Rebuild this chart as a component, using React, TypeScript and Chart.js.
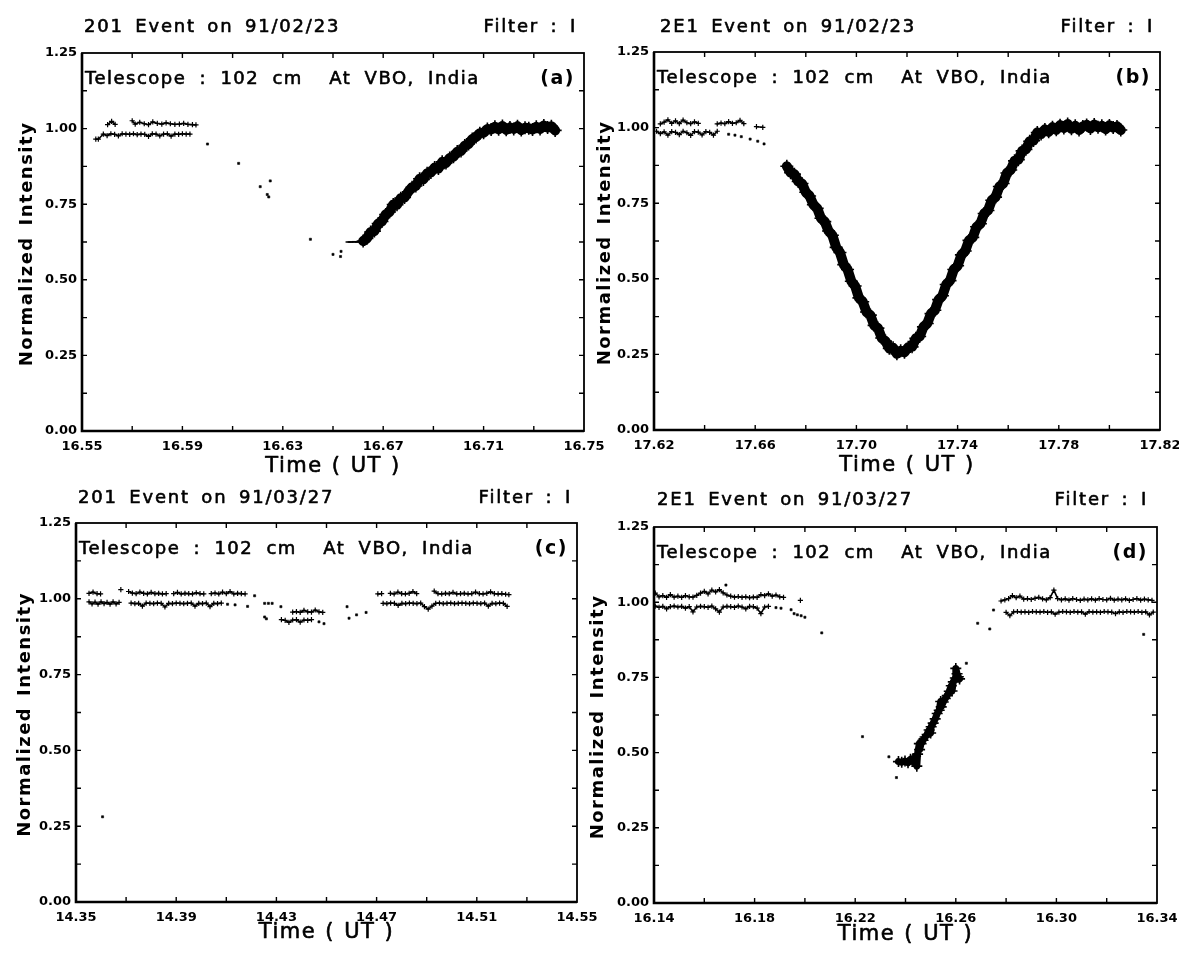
import React, { useEffect, useRef } from "react";
import { Chart, registerables } from "chart.js";

Chart.register(...registerables);
Chart.defaults.font.family = '"DejaVu Sans", sans-serif';

const PAGE_W = 1179;
const PAGE_H = 955;

// ---------- axis ticks ----------
const Y_TICKS = [0, 0.25, 0.5, 0.75, 1.0, 1.25];
const Y_TICK_LABELS = ["0.00", "0.25", "0.50", "0.75", "1.00", "1.25"];

const A_X_TICKS = [16.55, 16.59, 16.63, 16.67, 16.71, 16.75];
const A_X_LABELS = ["16.55", "16.59", "16.63", "16.67", "16.71", "16.75"];
const B_X_TICKS = [17.62, 17.66, 17.7, 17.74, 17.78, 17.82];
const B_X_LABELS = ["17.62", "17.66", "17.70", "17.74", "17.78", "17.82"];
const C_X_TICKS = [14.35, 14.39, 14.43, 14.47, 14.51, 14.55];
const C_X_LABELS = ["14.35", "14.39", "14.43", "14.47", "14.51", "14.55"];
const D_X_TICKS = [16.14, 16.18, 16.22, 16.26, 16.3, 16.34];
const D_X_LABELS = ["16.14", "16.18", "16.22", "16.26", "16.30", "16.34"];

// ---------- panel (a) 201 Event on 91/02/23 ----------
const A_PRE_HI: [number, number][] = [
  [16.5602, 1.013], [16.5618, 1.024], [16.5632, 1.014], [16.57, 1.026], [16.5712, 1.015],
  [16.573, 1.021], [16.5748, 1.016], [16.5765, 1.013], [16.5782, 1.022], [16.58, 1.017],
  [16.5818, 1.015], [16.5835, 1.019], [16.5852, 1.016], [16.587, 1.014], [16.5888, 1.015],
  [16.5905, 1.017], [16.5922, 1.014], [16.594, 1.013], [16.5954, 1.012],
];
const A_PRE_LO: [number, number][] = [
  [16.5555, 0.965], [16.5565, 0.965], [16.5585, 0.982], [16.56, 0.977], [16.5615, 0.983],
  [16.563, 0.981], [16.5645, 0.976], [16.566, 0.983], [16.5675, 0.982], [16.569, 0.981],
  [16.5705, 0.983], [16.572, 0.98], [16.5735, 0.982], [16.575, 0.981], [16.5765, 0.974],
  [16.578, 0.983], [16.5795, 0.982], [16.581, 0.976], [16.5825, 0.982], [16.584, 0.983],
  [16.5855, 0.975], [16.587, 0.982], [16.5885, 0.981], [16.59, 0.983], [16.5915, 0.982],
  [16.593, 0.982],
];
const A_GAP: [number, number][] = [
  [16.6, 0.949], [16.6124, 0.885], [16.621, 0.808], [16.6238, 0.782], [16.6244, 0.774],
  [16.625, 0.827], [16.641, 0.634], [16.65, 0.584], [16.653, 0.577], [16.6532, 0.594],
];
const A_FLAT: [number, number][] = [
  [16.656, 0.625], [16.6572, 0.625], [16.6584, 0.626], [16.6596, 0.625], [16.6608, 0.626],
];
const A_RISE: [number, number][] = [
  [16.662, 0.628], [16.6635, 0.637], [16.665, 0.658], [16.6665, 0.661], [16.668, 0.686],
  [16.6695, 0.693], [16.671, 0.716], [16.6725, 0.724], [16.674, 0.749], [16.6755, 0.748],
  [16.677, 0.77], [16.6785, 0.772], [16.68, 0.791], [16.6815, 0.806], [16.683, 0.81],
  [16.6845, 0.834], [16.686, 0.832], [16.6875, 0.852], [16.689, 0.855], [16.6905, 0.871],
  [16.692, 0.868], [16.6935, 0.89], [16.695, 0.886], [16.6965, 0.903], [16.698, 0.907],
  [16.6995, 0.924], [16.701, 0.926], [16.7025, 0.944], [16.704, 0.949], [16.7055, 0.966],
  [16.707, 0.972], [16.7085, 0.985], [16.71, 0.986], [16.7115, 0.999], [16.713, 0.997],
  [16.7145, 1.006], [16.716, 0.998], [16.7175, 1.009], [16.719, 0.996], [16.7205, 1.004],
  [16.722, 0.999], [16.7235, 1.008], [16.725, 0.995], [16.7265, 1.003], [16.728, 1.001],
  [16.7295, 0.997], [16.731, 1.006], [16.7325, 0.999], [16.734, 1.01], [16.7355, 1.004],
  [16.737, 1.008], [16.7385, 0.994],
];

// ---------- panel (b) 2E1 Event on 91/02/23 ----------
const B_PRE_HI: [number, number][] = [
  [17.6225, 1.012], [17.624, 1.018], [17.6255, 1.026], [17.627, 1.014], [17.6285, 1.022],
  [17.63, 1.013], [17.6315, 1.025], [17.633, 1.016], [17.6345, 1.013], [17.636, 1.019],
  [17.6375, 1.014], [17.645, 1.012], [17.6465, 1.015], [17.648, 1.013], [17.6495, 1.02],
  [17.651, 1.014], [17.6525, 1.016], [17.654, 1.024], [17.6555, 1.013], [17.6605, 1.003],
  [17.663, 1.001],
];
const B_PRE_LO: [number, number][] = [
  [17.621, 0.988], [17.6225, 0.98], [17.624, 0.986], [17.6255, 0.975], [17.627, 0.987],
  [17.6285, 0.984], [17.63, 0.977], [17.6315, 0.988], [17.633, 0.983], [17.6345, 0.974],
  [17.636, 0.987], [17.6375, 0.985], [17.639, 0.976], [17.6405, 0.987], [17.642, 0.984],
  [17.6435, 0.975], [17.645, 0.988],
];
const B_FALL: [number, number][] = [
  [17.6495, 0.978], [17.652, 0.975], [17.6545, 0.97], [17.658, 0.962], [17.661, 0.955],
  [17.6635, 0.946],
];
const B_CURVE: [number, number][] = [
  [17.6725, 0.872], [17.674, 0.851], [17.6755, 0.846], [17.677, 0.822], [17.6785, 0.815],
  [17.68, 0.786], [17.6815, 0.774], [17.683, 0.745], [17.6845, 0.733], [17.686, 0.7],
  [17.6875, 0.689], [17.689, 0.658], [17.6905, 0.644], [17.692, 0.604], [17.6935, 0.587],
  [17.695, 0.547], [17.6965, 0.531], [17.698, 0.492], [17.6995, 0.476], [17.701, 0.437],
  [17.7025, 0.424], [17.704, 0.39], [17.7055, 0.38], [17.707, 0.346], [17.7085, 0.337],
  [17.71, 0.304], [17.7115, 0.294], [17.713, 0.27], [17.7145, 0.272], [17.716, 0.252],
  [17.7175, 0.262], [17.719, 0.257], [17.7205, 0.274], [17.722, 0.275], [17.7235, 0.303],
  [17.725, 0.309], [17.7265, 0.341], [17.728, 0.352], [17.7295, 0.385], [17.731, 0.396],
  [17.7325, 0.431], [17.734, 0.444], [17.7355, 0.481], [17.737, 0.494], [17.7385, 0.531],
  [17.74, 0.543], [17.7415, 0.579], [17.743, 0.592], [17.7445, 0.627], [17.746, 0.637],
  [17.7475, 0.672], [17.749, 0.682], [17.7505, 0.716], [17.752, 0.726], [17.7535, 0.76],
  [17.755, 0.77], [17.7565, 0.805], [17.758, 0.815], [17.7595, 0.85], [17.761, 0.86],
  [17.7625, 0.89], [17.764, 0.894], [17.7655, 0.923], [17.767, 0.928], [17.7685, 0.955],
  [17.77, 0.957], [17.7715, 0.984], [17.773, 0.979], [17.7745, 0.994], [17.776, 0.986],
  [17.7775, 1.001], [17.779, 0.993], [17.7805, 1.008], [17.782, 0.999], [17.7835, 1.012],
  [17.785, 0.996], [17.7865, 1.006], [17.788, 0.992], [17.7895, 1.004], [17.791, 1.009],
  [17.7925, 0.997], [17.794, 1.01], [17.7955, 1.001], [17.797, 1.006], [17.7985, 0.995],
  [17.8, 1.007], [17.8015, 1.0], [17.803, 1.004], [17.8045, 0.992],
];

// ---------- panel (c) 201 Event on 91/03/27 ----------
const C_PRE_HI: [number, number][] = [
  [14.3552, 1.018], [14.3568, 1.022], [14.3584, 1.017], [14.3598, 1.016], [14.3679, 1.03],
  [14.371, 1.024], [14.3725, 1.019], [14.374, 1.017], [14.3755, 1.022], [14.377, 1.018],
  [14.3785, 1.016], [14.38, 1.021], [14.3815, 1.017], [14.383, 1.018], [14.3845, 1.016],
  [14.386, 1.017], [14.389, 1.017], [14.3905, 1.021], [14.392, 1.016], [14.3935, 1.018],
  [14.395, 1.017], [14.3965, 1.016], [14.398, 1.02], [14.3995, 1.017], [14.401, 1.016],
  [14.404, 1.017], [14.4055, 1.019], [14.407, 1.016], [14.4085, 1.022], [14.41, 1.017],
  [14.4115, 1.024], [14.413, 1.016], [14.4145, 1.018], [14.416, 1.017], [14.4175, 1.016],
];
const C_PRE_LO: [number, number][] = [
  [14.3552, 0.99], [14.3564, 0.983], [14.3576, 0.989], [14.3588, 0.982], [14.36, 0.99],
  [14.3612, 0.984], [14.3624, 0.988], [14.3636, 0.982], [14.3648, 0.99], [14.366, 0.983],
  [14.3672, 0.988], [14.372, 0.986], [14.3735, 0.984], [14.375, 0.985], [14.3765, 0.976],
  [14.378, 0.986], [14.3795, 0.985], [14.381, 0.984], [14.3825, 0.986], [14.384, 0.985],
  [14.3855, 0.973], [14.387, 0.985], [14.3885, 0.984], [14.39, 0.986], [14.3915, 0.985],
  [14.393, 0.984], [14.3945, 0.985], [14.396, 0.986], [14.3975, 0.976], [14.399, 0.985],
  [14.4005, 0.984], [14.402, 0.986], [14.4035, 0.974], [14.405, 0.985], [14.4065, 0.984],
  [14.408, 0.986],
];
const C_DIP_HI: [number, number][] = [
  [14.4365, 0.956], [14.438, 0.958], [14.4395, 0.955], [14.441, 0.962], [14.4425, 0.957],
  [14.444, 0.956], [14.4455, 0.963], [14.447, 0.957], [14.4485, 0.955],
];
const C_DIP_LO: [number, number][] = [
  [14.432, 0.931], [14.4335, 0.929], [14.435, 0.922], [14.4365, 0.93], [14.438, 0.931],
  [14.4395, 0.923], [14.441, 0.93], [14.4425, 0.929], [14.444, 0.931],
];
const C_DOTS: [number, number][] = [
  [14.3606, 0.281], [14.4105, 0.982], [14.4135, 0.98], [14.4185, 0.975], [14.4213, 1.01],
  [14.4253, 0.985], [14.4268, 0.985], [14.4283, 0.985], [14.4253, 0.94], [14.426, 0.934],
  [14.4318, 0.974], [14.447, 0.924], [14.449, 0.918], [14.4582, 0.974], [14.459, 0.936],
  [14.462, 0.947], [14.4658, 0.955],
];
const C_POST_HI: [number, number][] = [
  [14.4705, 1.016], [14.472, 1.017], [14.4755, 1.018], [14.477, 1.016], [14.4785, 1.022],
  [14.48, 1.017], [14.4815, 1.016], [14.483, 1.018], [14.4845, 1.024], [14.486, 1.017],
  [14.493, 1.025], [14.4945, 1.017], [14.496, 1.016], [14.4975, 1.018], [14.499, 1.017],
  [14.5005, 1.021], [14.502, 1.016], [14.5035, 1.017], [14.505, 1.018], [14.5065, 1.016],
  [14.508, 1.017], [14.5095, 1.022], [14.511, 1.017], [14.5125, 1.016], [14.514, 1.018],
  [14.5155, 1.023], [14.517, 1.017], [14.5185, 1.016], [14.52, 1.017], [14.5215, 1.015],
  [14.5228, 1.014],
];
const C_POST_LO: [number, number][] = [
  [14.4726, 0.985], [14.4741, 0.984], [14.4756, 0.986], [14.4771, 0.985], [14.4786, 0.978],
  [14.4801, 0.985], [14.4816, 0.984], [14.4831, 0.986], [14.4846, 0.985], [14.4861, 0.984],
  [14.4876, 0.986], [14.4891, 0.974], [14.4906, 0.966], [14.4921, 0.976], [14.4936, 0.985],
  [14.4951, 0.986], [14.4966, 0.984], [14.4981, 0.985], [14.4996, 0.986], [14.5011, 0.984],
  [14.5026, 0.985], [14.5041, 0.986], [14.5056, 0.985], [14.5071, 0.984], [14.5086, 0.986],
  [14.5101, 0.985], [14.5116, 0.984], [14.5131, 0.986], [14.5146, 0.976], [14.5161, 0.985],
  [14.5176, 0.984], [14.5191, 0.986], [14.5206, 0.985], [14.5221, 0.975],
];

// ---------- panel (d) 2E1 Event on 91/03/27 ----------
const D_PRE_HI: [number, number][] = [
  [16.1405, 1.03], [16.142, 1.018], [16.1435, 1.022], [16.145, 1.016], [16.1465, 1.025],
  [16.148, 1.017], [16.1495, 1.02], [16.151, 1.016], [16.1525, 1.022], [16.154, 1.018],
  [16.1555, 1.017], [16.157, 1.023], [16.1585, 1.03], [16.16, 1.036], [16.1615, 1.028],
  [16.163, 1.04], [16.1645, 1.034], [16.166, 1.042], [16.1675, 1.031], [16.169, 1.024],
  [16.1705, 1.02], [16.172, 1.017], [16.1735, 1.019], [16.175, 1.016], [16.1765, 1.018],
  [16.178, 1.015], [16.1795, 1.017], [16.181, 1.016], [16.1825, 1.025], [16.184, 1.022],
  [16.1855, 1.028], [16.187, 1.02], [16.1885, 1.024], [16.19, 1.018], [16.1915, 1.016],
  [16.1982, 1.006],
];
const D_PRE_LO: [number, number][] = [
  [16.1405, 0.987], [16.142, 0.983], [16.1435, 0.986], [16.145, 0.978], [16.1465, 0.985],
  [16.148, 0.987], [16.1495, 0.984], [16.151, 0.986], [16.1525, 0.98], [16.154, 0.985],
  [16.1555, 0.968], [16.157, 0.984], [16.1585, 0.986], [16.16, 0.985], [16.1615, 0.983],
  [16.163, 0.987], [16.1645, 0.978], [16.166, 0.967], [16.1675, 0.984], [16.169, 0.986],
  [16.1705, 0.985], [16.172, 0.983], [16.1735, 0.987], [16.175, 0.984], [16.1765, 0.978],
  [16.178, 0.986], [16.1795, 0.985], [16.181, 0.98], [16.1825, 0.962], [16.184, 0.984],
  [16.1855, 0.986],
];
const D_DOTS: [number, number][] = [
  [16.1686, 1.057], [16.1885, 0.982], [16.1905, 0.98], [16.1945, 0.975], [16.1957, 0.962],
  [16.197, 0.958], [16.1985, 0.955], [16.2, 0.95], [16.2067, 0.898], [16.2229, 0.553],
  [16.2334, 0.486], [16.2364, 0.417], [16.2642, 0.797], [16.2687, 0.93], [16.2735, 0.911],
  [16.275, 0.974], [16.3347, 0.893],
];
const D_RISE: [number, number][] = [
  [16.2372, 0.47], [16.2385, 0.468], [16.2398, 0.472], [16.241, 0.466], [16.242, 0.478],
  [16.243, 0.47], [16.244, 0.488], [16.2445, 0.455], [16.2448, 0.495], [16.2455, 0.53],
  [16.2456, 0.51], [16.2462, 0.53], [16.247, 0.541], [16.2478, 0.552], [16.2486, 0.56],
  [16.2494, 0.575], [16.25, 0.565], [16.2502, 0.586], [16.251, 0.598], [16.2518, 0.612],
  [16.2526, 0.63], [16.2534, 0.641], [16.254, 0.67], [16.2542, 0.652], [16.255, 0.668],
  [16.2558, 0.68], [16.2566, 0.69], [16.2574, 0.704], [16.2582, 0.722], [16.2585, 0.705],
  [16.259, 0.735], [16.2598, 0.748], [16.26, 0.78], [16.2605, 0.762], [16.261, 0.752],
  [16.2615, 0.745],
];
const D_POST_HI: [number, number][] = [
  [16.278, 1.004], [16.2795, 1.008], [16.281, 1.012], [16.2825, 1.022], [16.284, 1.015],
  [16.2855, 1.02], [16.287, 1.01], [16.2885, 1.012], [16.29, 1.009], [16.2915, 1.013],
  [16.293, 1.016], [16.2945, 1.011], [16.296, 1.008], [16.2975, 1.015], [16.299, 1.04],
  [16.3005, 1.012], [16.302, 1.008], [16.3035, 1.011], [16.305, 1.007], [16.3065, 1.012],
  [16.308, 1.009], [16.3095, 1.006], [16.311, 1.01], [16.3125, 1.008], [16.314, 1.011],
  [16.3155, 1.007], [16.317, 1.012], [16.3185, 1.009], [16.32, 1.008], [16.3215, 1.013],
  [16.323, 1.007], [16.3245, 1.01], [16.326, 1.008], [16.3275, 1.011], [16.329, 1.006],
  [16.3305, 1.009], [16.332, 1.012], [16.3335, 1.007], [16.335, 1.01], [16.3365, 1.008],
  [16.338, 1.006],
];
const D_POST_LO: [number, number][] = [
  [16.28, 0.966], [16.2815, 0.955], [16.283, 0.968], [16.2845, 0.969], [16.286, 0.967],
  [16.2875, 0.968], [16.289, 0.966], [16.2905, 0.969], [16.292, 0.968], [16.2935, 0.967],
  [16.295, 0.969], [16.2965, 0.966], [16.298, 0.968], [16.2995, 0.96], [16.301, 0.967],
  [16.3025, 0.969], [16.304, 0.968], [16.3055, 0.966], [16.307, 0.969], [16.3085, 0.967],
  [16.31, 0.968], [16.3115, 0.96], [16.313, 0.969], [16.3145, 0.967], [16.316, 0.968],
  [16.3175, 0.966], [16.319, 0.969], [16.3205, 0.968], [16.322, 0.967], [16.3235, 0.962],
  [16.325, 0.968], [16.3265, 0.966], [16.328, 0.969], [16.3295, 0.968], [16.331, 0.967],
  [16.3325, 0.969], [16.334, 0.966], [16.3355, 0.968], [16.337, 0.958], [16.3385, 0.967],
];

// ---------- text ----------
const TELESCOPE_TEXT = "Telescope : 102 cm  At VBO, India";
const X_TITLE = "Time ( UT )";
const Y_TITLE = "Normalized Intensity";

type Kind = "band" | "cloud" | "row" | "dot" | "dash";
type Series = { pts: [number, number][]; kind: Kind };
type Panel = {
  key: string;
  title: string;
  filter: string;
  letter: string;
  xMin: number;
  xMax: number;
  xTicks: number[];
  xLabels: string[];
  box: { left: number; top: number; right: number; bottom: number };
  titleX: number;
  titleY: number;
  filterX: number;
  xTitleY: number;
  yTitleX: number;
  series: Series[];
};

const PANELS: Panel[] = [
  {
    key: "a", title: "201 Event on 91/02/23", filter: "Filter : I", letter: "(a)",
    xMin: 16.55, xMax: 16.75, xTicks: A_X_TICKS, xLabels: A_X_LABELS,
    box: { left: 82, top: 53, right: 584, bottom: 431 },
    titleX: 84, titleY: 32, filterX: 577, xTitleY: 472, yTitleX: 32,
    series: [
      { pts: A_PRE_HI, kind: "row" }, { pts: A_PRE_LO, kind: "row" },
      { pts: A_GAP, kind: "dot" }, { pts: A_FLAT, kind: "dash" }, { pts: A_RISE, kind: "band" },
    ],
  },
  {
    key: "b", title: "2E1 Event on 91/02/23", filter: "Filter : I", letter: "(b)",
    xMin: 17.62, xMax: 17.82, xTicks: B_X_TICKS, xLabels: B_X_LABELS,
    box: { left: 654, top: 52, right: 1160, bottom: 430 },
    titleX: 660, titleY: 32, filterX: 1154, xTitleY: 471, yTitleX: 610,
    series: [
      { pts: B_PRE_HI, kind: "row" }, { pts: B_PRE_LO, kind: "row" },
      { pts: B_FALL, kind: "dot" }, { pts: B_CURVE, kind: "band" },
    ],
  },
  {
    key: "c", title: "201 Event on 91/03/27", filter: "Filter : I", letter: "(c)",
    xMin: 14.35, xMax: 14.55, xTicks: C_X_TICKS, xLabels: C_X_LABELS,
    box: { left: 76, top: 523, right: 577, bottom: 902 },
    titleX: 78, titleY: 503, filterX: 572, xTitleY: 938, yTitleX: 30,
    series: [
      { pts: C_PRE_HI, kind: "row" }, { pts: C_PRE_LO, kind: "row" },
      { pts: C_DIP_HI, kind: "row" }, { pts: C_DIP_LO, kind: "row" },
      { pts: C_DOTS, kind: "dot" }, { pts: C_POST_HI, kind: "row" }, { pts: C_POST_LO, kind: "row" },
    ],
  },
  {
    key: "d", title: "2E1 Event on 91/03/27", filter: "Filter : I", letter: "(d)",
    xMin: 16.14, xMax: 16.34, xTicks: D_X_TICKS, xLabels: D_X_LABELS,
    box: { left: 654, top: 527, right: 1157, bottom: 903 },
    titleX: 657, titleY: 505, filterX: 1148, xTitleY: 940, yTitleX: 603,
    series: [
      { pts: D_PRE_HI, kind: "row" }, { pts: D_PRE_LO, kind: "row" },
      { pts: D_DOTS, kind: "dot" }, { pts: D_RISE, kind: "cloud" },
      { pts: D_POST_HI, kind: "row" }, { pts: D_POST_LO, kind: "row" },
    ],
  },
];

const GAP_LIMIT = 0.0026; // no connecting stroke across gaps in the record

const KIND_STYLE: Record<Kind, any> = {
  band: { showLine: true, borderWidth: 10, pointStyle: "cross", pointRadius: 6.5, pointBorderWidth: 1.6 },
  cloud: { showLine: true, borderWidth: 7, pointStyle: "cross", pointRadius: 5.5, pointBorderWidth: 1.6 },
  row: { showLine: true, borderWidth: 1.6, pointStyle: "cross", pointRadius: 2.6, pointBorderWidth: 1.2 },
  dot: { showLine: false, pointStyle: "rect", pointRadius: 1.5, pointBorderWidth: 0.6 },
  dash: { showLine: true, borderWidth: 1.5, pointStyle: "line", pointRadius: 2.5, pointBorderWidth: 1.5 },
};

const YW = 60;
const XH = 30;

function setSpacing(ctx: any, letter: string, word: string) {
  ctx.letterSpacing = letter;
  ctx.wordSpacing = word;
}

function heavyText(ctx: CanvasRenderingContext2D, text: string, x: number, y: number) {
  ctx.fillText(text, x, y);
  ctx.strokeText(text, x, y);
}

function PanelChart({ panel }: { panel: Panel }) {
  const ref = useRef<HTMLCanvasElement | null>(null);
  useEffect(() => {
    const canvas = ref.current;
    if (!canvas) return;
    const b = panel.box;
    const overlay = {
      id: "overlay_" + panel.key,
      afterDraw(chart: any) {
        const ctx = chart.ctx as CanvasRenderingContext2D;
        const ca = chart.chartArea;
        const xs = chart.scales.x;
        const ys = chart.scales.y;
        ctx.save();
        ctx.strokeStyle = "#000";
        ctx.fillStyle = "#000";
        // inward ticks on all four sides
        ctx.lineWidth = 1.4;
        ctx.beginPath();
        for (let i = 1; i < 10; i++) {
          const px = xs.getPixelForValue(panel.xMin + (i * (panel.xMax - panel.xMin)) / 10);
          ctx.moveTo(px, ca.top);
          ctx.lineTo(px, ca.top + 5);
          ctx.moveTo(px, ca.bottom);
          ctx.lineTo(px, ca.bottom - 5);
        }
        for (let i = 1; i < 10; i++) {
          const py = ys.getPixelForValue(i * 0.125);
          ctx.moveTo(ca.left, py);
          ctx.lineTo(ca.left + 5, py);
          ctx.moveTo(ca.right, py);
          ctx.lineTo(ca.right - 5, py);
        }
        ctx.stroke();
        // frame
        ctx.lineWidth = 1.8;
        ctx.strokeRect(ca.left, ca.top, ca.right - ca.left, ca.bottom - ca.top);
        ctx.lineWidth = 2.6;
        ctx.beginPath();
        ctx.moveTo(ca.left, ca.top);
        ctx.lineTo(ca.left, ca.bottom);
        ctx.lineTo(ca.right, ca.bottom);
        ctx.stroke();
        // texts (slightly emboldened like the plotter font)
        ctx.lineWidth = 0.6;
        ctx.lineJoin = "round";
        ctx.textBaseline = "alphabetic";
        ctx.font = '18px "DejaVu Sans"';
        setSpacing(ctx, "1.8px", "4px");
        ctx.textAlign = "left";
        heavyText(ctx, panel.title, panel.titleX, panel.titleY);
        ctx.textAlign = "right";
        heavyText(ctx, panel.filter, panel.filterX, panel.titleY);
        setSpacing(ctx, "1.5px", "6px");
        ctx.textAlign = "left";
        heavyText(ctx, TELESCOPE_TEXT, ca.left + 3, ca.top + 31);
        ctx.font = 'bold 19px "DejaVu Sans"';
        setSpacing(ctx, "1.5px", "0px");
        ctx.textAlign = "right";
        ctx.fillText(panel.letter, ca.right - 9, ca.top + 31);
        ctx.font = '21px "DejaVu Sans"';
        setSpacing(ctx, "1.5px", "1px");
        ctx.textAlign = "center";
        heavyText(ctx, X_TITLE, (ca.left + ca.right) / 2, panel.xTitleY);
        ctx.save();
        ctx.translate(panel.yTitleX, (ca.top + ca.bottom) / 2 + 2);
        ctx.rotate(-Math.PI / 2);
        ctx.font = 'bold 18px "DejaVu Sans"';
        setSpacing(ctx, "1.5px", "3px");
        ctx.textAlign = "center";
        ctx.fillText(Y_TITLE, 0, 0);
        ctx.restore();
        setSpacing(ctx, "0px", "0px");
        ctx.restore();
      },
    };
    const tickFont = { family: '"DejaVu Sans"', size: 13, weight: "bold" as const };
    const chart = new Chart(canvas, {
      type: "scatter",
      data: {
        datasets: panel.series.map((s) => ({
          data: s.pts.map(([t, v]) => ({ x: t, y: v })),
          borderColor: "#000",
          backgroundColor: "#000",
          pointBorderColor: "#000",
          pointBackgroundColor: "#000",
          tension: 0,
          borderJoinStyle: "round",
          borderCapStyle: "round",
          segment: {
            borderColor: (c: any) =>
              Math.abs(c.p1.parsed.x - c.p0.parsed.x) > GAP_LIMIT ? "rgba(0,0,0,0)" : "#000",
          },
          ...KIND_STYLE[s.kind],
        })),
      },
      options: {
        responsive: false,
        animation: false,
        events: [],
        layout: {
          padding: {
            left: b.left - YW,
            top: b.top,
            right: PAGE_W - b.right,
            bottom: PAGE_H - b.bottom - XH,
          },
        },
        plugins: {
          legend: { display: false },
          tooltip: { enabled: false },
          title: { display: false },
        },
        scales: {
          x: {
            type: "linear",
            min: panel.xMin,
            max: panel.xMax,
            grid: { display: false, drawTicks: false },
            border: { display: false },
            afterBuildTicks: (scale: any) => {
              scale.ticks = panel.xTicks.map((v) => ({ value: v }));
            },
            afterFit: (scale: any) => {
              scale.height = XH;
              scale.paddingLeft = 0;
              scale.paddingRight = 0;
              scale.paddingTop = 0;
              scale.paddingBottom = 0;
            },
            ticks: {
              autoSkip: false,
              maxRotation: 0,
              minRotation: 0,
              padding: 8,
              color: "#000",
              font: tickFont,
              callback: (_v: any, i: number) => panel.xLabels[i],
            },
          },
          y: {
            type: "linear",
            min: 0,
            max: 1.25,
            grid: { display: false, drawTicks: false },
            border: { display: false },
            afterBuildTicks: (scale: any) => {
              scale.ticks = Y_TICKS.map((v) => ({ value: v }));
            },
            afterFit: (scale: any) => {
              scale.width = YW;
              scale.paddingLeft = 0;
              scale.paddingRight = 0;
              scale.paddingTop = 0;
              scale.paddingBottom = 0;
            },
            ticks: {
              autoSkip: false,
              padding: 5,
              color: "#000",
              font: tickFont,
              callback: (_v: any, i: number) => Y_TICK_LABELS[i],
            },
          },
        },
      } as any,
      plugins: [overlay],
    });
    return () => chart.destroy();
  }, [panel]);
  return (
    <canvas
      ref={ref}
      width={PAGE_W}
      height={PAGE_H}
      style={{ position: "absolute", left: 0, top: 0, width: PAGE_W, height: PAGE_H }}
    />
  );
}

export default function App() {
  return (
    <div
      style={{
        position: "absolute",
        left: 0,
        top: 0,
        width: PAGE_W,
        height: PAGE_H,
        background: "#fff",
        overflow: "hidden",
      }}
    >
      {PANELS.map((p) => (
        <PanelChart key={p.key} panel={p} />
      ))}
    </div>
  );
}
